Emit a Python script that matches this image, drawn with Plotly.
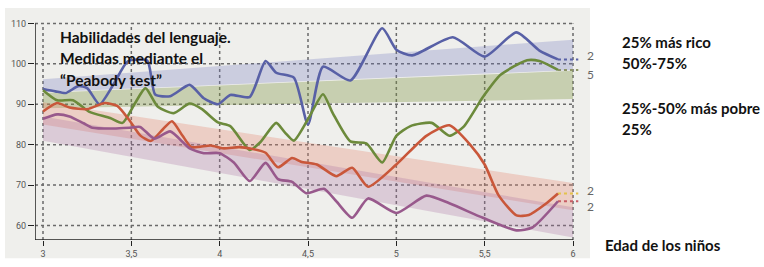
import plotly.graph_objects as go

# ---------------- data ----------------
x_ticks = [3, 3.5, 4, 4.5, 5, 5.5, 6]
x_tick_labels = ["3", "3,5", "4", "4,5", "5", "5,5", "6"]
y_ticks = [60, 70, 80, 90, 100, 110]
y_tick_labels = ["60", "70", "80", "90", "100", "110"]

blue_x = [3.0, 3.07, 3.13, 3.2, 3.25, 3.32, 3.4, 3.48, 3.59, 3.635, 3.72, 3.83, 3.91, 3.99, 4.06, 4.17, 4.26,
          4.32, 4.42, 4.5, 4.585, 4.74, 4.92, 5.0, 5.09, 5.32, 5.5, 5.68, 5.81, 5.915]
blue_y = [93.8, 93.2, 92.8, 94.5, 94.0, 90.0, 95.0, 100.6, 100.8, 92.4, 92.0, 94.8, 91.5, 90.0, 92.3, 91.8, 100.7,
          97.8, 96.6, 85.0, 99.3, 95.9, 108.8, 103.5, 102.1, 106.6, 101.8, 107.8, 103.3, 101.1]

green_x = [3.0, 3.08, 3.17, 3.26, 3.38, 3.45, 3.52, 3.58, 3.65, 3.74, 3.83, 3.9, 3.99, 4.06, 4.17, 4.23, 4.32,
           4.37, 4.42, 4.5, 4.585, 4.64, 4.74, 4.83, 4.92, 5.0, 5.08, 5.2, 5.3, 5.38, 5.49, 5.59, 5.74, 5.81, 5.915]
green_y = [93.5, 91.0, 91.0, 88.2, 86.6, 85.4, 90.2, 94.0, 89.4, 87.8, 90.2, 88.8, 85.5, 84.6, 78.7, 80.6, 85.4,
           83.0, 81.0, 86.3, 92.5, 87.8, 80.8, 80.3, 75.6, 82.2, 84.6, 85.4, 82.2, 84.4, 91.8, 97.3, 100.9, 100.7, 98.5]

red_x = [3.0, 3.08, 3.15, 3.25, 3.35, 3.42, 3.49, 3.55, 3.61, 3.68, 3.73, 3.79, 3.84, 3.95, 4.02, 4.11, 4.18,
         4.26, 4.33, 4.41, 4.46, 4.55, 4.66, 4.75, 4.84, 5.0, 5.17, 5.3, 5.42, 5.5, 5.58, 5.68, 5.75, 5.85, 5.915]
red_y = [88.2, 90.3, 89.2, 88.8, 90.3, 89.6, 86.0, 82.3, 80.9, 83.9, 85.8, 82.2, 79.4, 79.8, 79.1, 79.4, 79.0,
         78.0, 74.4, 76.7, 75.8, 75.1, 72.2, 74.3, 69.6, 75.1, 82.2, 84.8, 79.9, 75.1, 67.4, 62.5, 62.6, 65.5, 67.9]

purple_x = [3.0, 3.08, 3.15, 3.23, 3.28, 3.4, 3.49, 3.55, 3.63, 3.72, 3.83, 3.91, 4.0, 4.08, 4.17, 4.26, 4.33,
            4.41, 4.49, 4.59, 4.66, 4.75, 4.84, 5.0, 5.17, 5.3, 5.49, 5.68, 5.77, 5.915]
purple_y = [86.4, 87.5, 87.0, 85.3, 84.2, 84.0, 84.2, 84.4, 81.5, 83.3, 79.1, 77.9, 77.9, 75.6, 71.0, 75.5, 71.5,
            70.8, 68.0, 69.1, 66.0, 61.9, 66.7, 63.1, 67.4, 65.5, 61.9, 58.8, 59.5, 66.0]

band_x = [3, 6]
blue_band_lo = [93.0, 98.5]
blue_band_hi = [96.2, 106.0]
green_band_lo = [89.0, 91.3]
green_band_hi = [92.8, 98.3]
red_band_lo = [85.0, 63.8]
red_band_hi = [90.5, 70.5]
purple_band_lo = [81.0, 57.0]
purple_band_hi = [87.0, 64.5]

end_labels = ["2", "5", "2", "2"]
legend_labels = ["25% más rico", "50%-75%", "25%-50% más pobre", "25%"]
x_title = "Edad de los niños"
chart_title = ["Habilidades del lenguaje.", "Medidas mediante el", "“Peabody test”"]

# ---------------- layout geometry ----------------
W, H = 764, 267
L, R, T, B = 35, 169, 8, 19
PW, PH = W - L - R, H - T - B
xs = (573 - 43) / 3.0
ys = (233 - 24) / 50.0
x_range = [3 - (43 - L) / xs, 6 + (W - R - 573) / xs]
y_range = [60 - (H - B - 233) / ys, 110 + (24 - T) / ys]


def px(xp):
    return (xp - L) / PW


def py(yp):
    return (H - B - yp) / PH


fig = go.Figure()

bands = [
    (blue_band_lo, blue_band_hi, "rgba(112,118,190,0.28)"),
    (green_band_lo, green_band_hi, "rgba(128,150,70,0.36)"),
    (red_band_lo, red_band_hi, "rgba(228,130,105,0.30)"),
    (purple_band_lo, purple_band_hi, "rgba(170,110,160,0.28)"),
]
for lo, hi, col in bands:
    fig.add_trace(go.Scatter(x=band_x + band_x[::-1], y=lo + hi[::-1], fill="toself", fillcolor=col,
                             line=dict(width=0), mode="lines", hoverinfo="skip", showlegend=False))

series = [
    (blue_x, blue_y, "#5860a6", "#5860a6"),
    (green_x, green_y, "#6c8a3b", "#8c9366"),
    (red_x, red_y, "#c9573a", "#e3c24c"),
    (purple_x, purple_y, "#98598c", "#c85c64"),
]
for sx, sy, col, ext_col in series:
    fig.add_trace(go.Scatter(x=[sx[-1], 6.03], y=[sy[-1], sy[-1]], mode="lines",
                             line=dict(color=ext_col, width=2, dash="3px,3px"), showlegend=False))
    fig.add_trace(go.Scatter(x=sx, y=sy, mode="lines",
                             line=dict(color=col, width=2.6, shape="spline", smoothing=0.6),
                             showlegend=False))

shapes = []
shapes.append(dict(type="rect", xref="paper", yref="paper", x0=px(5), x1=px(590), y0=py(267), y1=py(8),
                   fillcolor="#efefec", line=dict(width=0), layer="below"))
for v in y_ticks:
    shapes.append(dict(type="line", xref="x", yref="y", x0=x_range[0], x1=6, y0=v, y1=v,
                       line=dict(color="#6a6a6a", width=1.5, dash="dot"), layer="below"))
for v in x_ticks:
    shapes.append(dict(type="line", xref="x", yref="y", x0=v, x1=v, y0=y_range[0], y1=110,
                       line=dict(color="#6a6a6a", width=1.5, dash="dot"), layer="below"))
shapes.append(dict(type="line", xref="x", yref="y", x0=x_range[0], x1=x_range[0], y0=y_range[0], y1=110,
                   line=dict(color="#222", width=1.5)))
shapes.append(dict(type="line", xref="x", yref="y", x0=x_range[0], x1=6, y0=y_range[0], y1=y_range[0],
                   line=dict(color="#222", width=1.5)))

annotations = []
offs = [1.0, -1.2, 0.7, -1.3]
for (sx, sy, col, ext_col), lab, o in zip(series, end_labels, offs):
    annotations.append(dict(x=6.07, y=sy[-1] + o, xref="x", yref="y", text=lab, showarrow=False,
                            xanchor="left", yanchor="middle", font=dict(family="Lato", size=12, color="#666")))

for i, t in enumerate(chart_title):
    annotations.append(dict(x=px(58), y=py(38 + 22 * i), xref="paper", yref="paper", text="<b>%s</b>" % t,
                            showarrow=False, xanchor="left", yanchor="middle",
                            font=dict(family="Lato", size=15.5, color="#111")))

leg_y = [43, 65, 111, 133]
for t, yp in zip(legend_labels, leg_y):
    annotations.append(dict(x=px(620), y=py(yp), xref="paper", yref="paper", text="<b>%s</b>" % t,
                            showarrow=False, xanchor="left", yanchor="middle",
                            font=dict(family="Lato", size=15, color="#111")))
annotations.append(dict(x=px(603), y=py(253), xref="paper", yref="paper", text="<b>%s</b>" % x_title,
                        showarrow=False, xanchor="left", yanchor="middle",
                        font=dict(family="Lato", size=15, color="#111")))

fig.update_layout(
    width=W, height=H, margin=dict(l=L, r=R, t=T, b=B, pad=0),
    paper_bgcolor="white", plot_bgcolor="rgba(0,0,0,0)",
    shapes=shapes, annotations=annotations, showlegend=False,
    xaxis=dict(range=x_range, tickvals=x_ticks, ticktext=x_tick_labels, showgrid=False, zeroline=False,
               showline=False, ticks="outside", ticklen=5, tickwidth=1.3, tickcolor="#222",
               tickfont=dict(family="Roboto", size=9, color="#555")),
    yaxis=dict(range=y_range, tickvals=y_ticks, ticktext=y_tick_labels, showgrid=False, zeroline=False,
               showline=False, ticks="outside", ticklen=6, tickwidth=1.3, tickcolor="#222",
               tickfont=dict(family="Roboto", size=9, color="#555")),
)

fig.write_html("out.html", config={"displayModeBar": False},
               post_script="document.body.style.margin='0';")
